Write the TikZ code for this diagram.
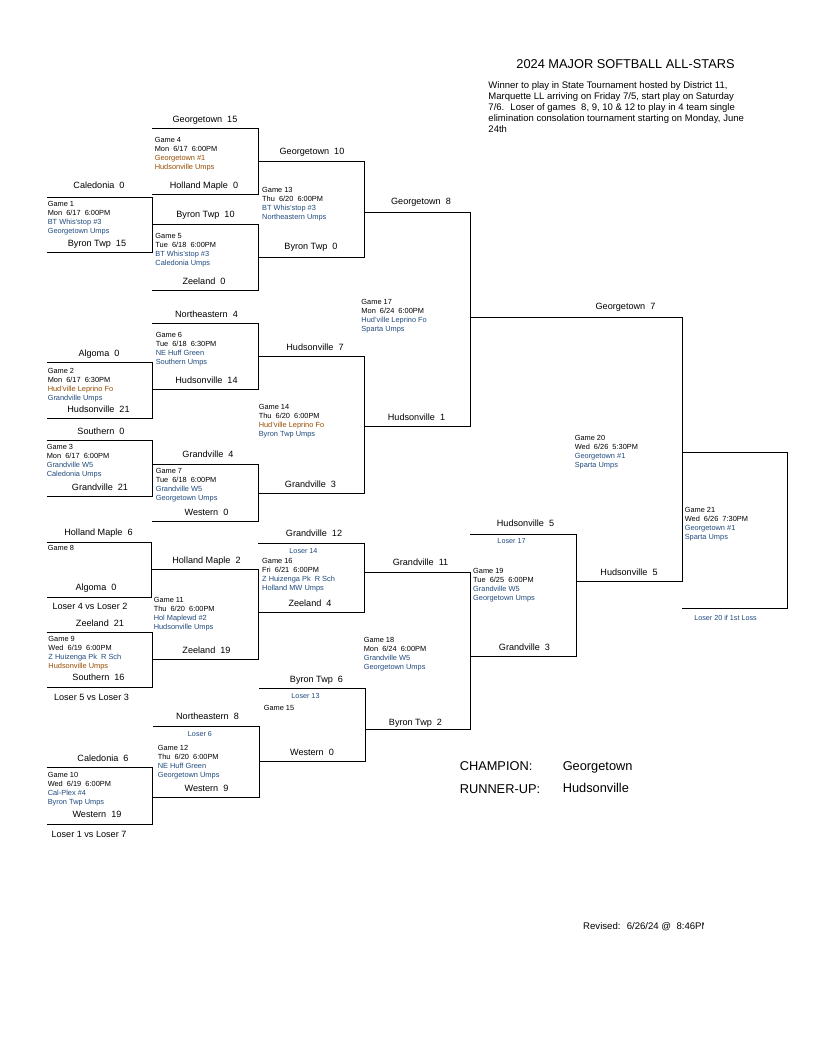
\documentclass[tikz,border=0pt]{standalone}
\usepackage{fontspec}
\setmainfont{Liberation Sans}
\usepackage{tikz}
\definecolor{siteblue}{RGB}{31,73,125}
\definecolor{sitebrown}{RGB}{150,75,0}
\newcommand{\blu}[1]{\textcolor{siteblue}{#1}}
\newcommand{\brn}[1]{\textcolor{sitebrown}{#1}}
% name, x left top, x left bottom, x right, y top, y bottom
\newcommand{\game}[6]{%
	\coordinate (#1tl) at (#2,#5); \coordinate (#1tr) at (#4,#5);
	\coordinate (#1bl) at (#3,#6); \coordinate (#1br) at (#4,#6);
	\draw (#1tl) -- (#1tr) -- (#1br) -- (#1bl);}

\begin{document}
\begin{tikzpicture}[x=1pt,y=-1pt,line width=0.95pt,
	team/.style={font=\fontsize{9.1}{11}\selectfont,anchor=base,inner sep=0},
	info/.style={font=\fontsize{7.4}{9}\selectfont,anchor=north west,align=left,inner sep=0},
	note/.style={font=\fontsize{7.2}{9}\selectfont,anchor=base,inner sep=0,text=siteblue},
	big/.style={font=\fontsize{12.8}{15}\selectfont,anchor=base west,inner sep=0}]
	\useasboundingbox (0,0) rectangle (816,1056);

	% brackets
	\game{g4}{152}{152}{258}{128.3}{194.3}
	\game{g1}{46.5}{46.5}{152}{197.3}{252.3}
	\game{g5}{152}{152}{258}{224.5}{290}
	\game{g13}{258}{258}{364}{161.3}{257.3}
	\game{g6}{152}{152}{258}{323.3}{389.5}
	\game{g2}{46.5}{46.5}{152}{362.3}{418.3}
	\game{g3}{46.5}{46.5}{152}{440}{496}
	\game{g7}{152}{152}{258}{464}{521}
	\game{g14}{258}{258}{364}{356}{493.5}
	\game{g17}{364}{364}{470}{212}{426}
	\game{g20}{470}{576}{682}{317.3}{581}
	\game{g21}{682}{682}{787}{452.3}{608.3}
	\game{g8}{46.5}{46.5}{151}{542.3}{597.3}
	\game{g9}{46.5}{46.5}{152}{632.3}{687.3}
	\game{g11}{151}{152}{258}{569.3}{659.3}
	\game{g16}{258}{258}{364}{543.5}{612}
	\game{g18}{364}{365}{470}{572.5}{729}
	\game{g15}{259}{259}{365}{688.7}{761}
	\game{g12}{153}{152}{259}{726.7}{797.3}
	\game{g10}{46.5}{46.5}{152}{767.3}{824.3}
	\game{g19}{470}{470}{576}{534.3}{656}

	% teams
	\node[team] (g4-1) at (205,122.3) {Georgetown~ 15};
	\node[team] (g4-2) at (204,188.3) {Holland Maple~ 0};
	\node[team] (g1-1) at (99,189) {Caledonia~ 0};
	\node[team] (g1-2) at (97,246.5) {Byron Twp~ 15};
	\node[team] (g5-1) at (205.5,217.5) {Byron Twp~ 10};
	\node[team] (g5-2) at (204,284) {Zeeland~ 0};
	\node[team] (g13-1) at (312,155) {Georgetown~ 10};
	\node[team] (g13-2) at (311,249.5) {Byron Twp~ 0};
	\node[team] (g17-1) at (421,205) {Georgetown~ 8};
	\node[team] (g6-1) at (206.5,317.2) {Northeastern~ 4};
	\node[team] (g6-2) at (206.5,383.2) {Hudsonville~ 14};
	\node[team] (g2-1) at (99,356) {Algoma~ 0};
	\node[team] (g2-2) at (98.5,412) {Hudsonville~ 21};
	\node[team] (g3-1) at (101,434) {Southern~ 0};
	\node[team] (g3-2) at (100,490) {Grandville~ 21};
	\node[team] (g7-1) at (208,457.5) {Grandville~ 4};
	\node[team] (g7-2) at (206.5,515) {Western~ 0};
	\node[team] (g14-1) at (315,350) {Hudsonville~ 7};
	\node[team] (g14-2) at (310.5,487.5) {Grandville~ 3};
	\node[team] (g17-2) at (416.5,420) {Hudsonville~ 1};
	\node[team] (g20-1) at (625.5,309) {Georgetown~ 7};
	\node[team] (g20-2) at (629,575) {Hudsonville~ 5};
	\node[team] (g16-1) at (314,536) {Grandville~ 12};
	\node[team] (g16-2) at (310,606) {Zeeland~ 4};
	\node[team] (g18-1) at (420.5,565) {Grandville~ 11};
	\node[team] (g18-2) at (415.5,725) {Byron Twp~ 2};
	\node[team] (g15-1) at (316.5,682.5) {Byron Twp~ 6};
	\node[team] (g15-2) at (312,755) {Western~ 0};
	\node[team] (g8-1) at (98.5,535) {Holland Maple~ 6};
	\node[team] (g8-2) at (96,590) {Algoma~ 0};
	\node[team] (g11-1) at (206.5,563.2) {Holland Maple~ 2};
	\node[team] (g11-2) at (206.5,653) {Zeeland~ 19};
	\node[team] (g9-1) at (100,626) {Zeeland~ 21};
	\node[team] (g9-2) at (98.5,680.5) {Southern~ 16};
	\node[team] (g12-1) at (207.5,719) {Northeastern~ 8};
	\node[team] (g12-2) at (206.5,791) {Western~ 9};
	\node[team] (g10-1) at (103,761) {Caledonia~ 6};
	\node[team] (g10-2) at (97,817.5) {Western~ 19};
	\node[team] (g19-1) at (525.5,526.5) {Hudsonville~ 5};
	\node[team] (g19-2) at (524.5,650) {Grandville~ 3};
	\node[team] (g8-v) at (90,609) {Loser 4 vs Loser 2};
	\node[team] (g9-v) at (91.5,700) {Loser 5 vs Loser 3};
	\node[team] (g10-v) at (89,837.5) {Loser 1 vs Loser 7};

	% losers dropped in
	\node[note] (g16-l) at (303.5,553.5) {Loser 14};
	\node[note] (g15-l) at (305.5,698.5) {Loser 13};
	\node[note] (g12-l) at (200,736) {Loser 6};
	\node[note] (g19-l) at (511.5,543.5) {Loser 17};
	\node[note] (g21-l) at (725.5,620) {Loser 20 if 1st Loss};

	% game info
	\node[info] (g1-i) at (47.3,201.3) {Game 1\\Mon~ 6/17~ 6:00PM\\\blu{BT Whis'stop \#3}\\\blu{Georgetown Umps}};
	\node[info] (g4-i) at (154.3,137.3) {Game 4\\Mon~ 6/17~ 6:00PM\\\brn{Georgetown \#1}\\\brn{Hudsonville Umps}};
	\node[info] (g5-i) at (155,233.3) {Game 5\\Tue~ 6/18~ 6:00PM\\\blu{BT Whis'stop \#3}\\\blu{Caledonia Umps}};
	\node[info] (g13-i) at (261.7,187.3) {Game 13\\Thu~ 6/20~ 6:00PM\\\blu{BT Whis'stop \#3}\\\blu{Northeastern Umps}};
	\node[info] (g6-i) at (155.3,331.6) {Game 6\\Tue~ 6/18~ 6:30PM\\\blu{NE Huff Green}\\\blu{Southern Umps}};
	\node[info] (g2-i) at (47.3,367.6) {Game 2\\Mon~ 6/17~ 6:30PM\\\brn{Hud'ville Leprino Fo}\\\blu{Grandville Umps}};
	\node[info] (g3-i) at (46.3,444.3) {Game 3\\Mon~ 6/17~ 6:00PM\\\blu{Grandville W5}\\\blu{Caledonia Umps}};
	\node[info] (g7-i) at (155.3,468.3) {Game 7\\Tue~ 6/18~ 6:00PM\\\blu{Grandville W5}\\\blu{Georgetown Umps}};
	\node[info] (g14-i) at (258.3,404) {Game 14\\Thu~ 6/20~ 6:00PM\\\brn{Hud'ville Leprino Fo}\\\blu{Byron Twp Umps}};
	\node[info] (g17-i) at (361,298.6) {Game 17\\Mon~ 6/24~ 6:00PM\\\blu{Hud'ville Leprino Fo}\\\blu{Sparta Umps}};
	\node[info] (g8-i) at (47.3,545) {Game 8};
	\node[info] (g11-i) at (153.3,596.6) {Game 11\\Thu~ 6/20~ 6:00PM\\\blu{Hol Maplewd \#2}\\\blu{Hudsonville Umps}};
	\node[info] (g9-i) at (48,636.3) {Game 9\\Wed~ 6/19~ 6:00PM\\\blu{Z Huizenga Pk~ R Sch}\\\brn{Hudsonville Umps}};
	\node[info] (g16-i) at (261.7,558) {Game 16\\Fri~ 6/21~ 6:00PM\\\blu{Z Huizenga Pk~ R Sch}\\\blu{Holland MW Umps}};
	\node[info] (g18-i) at (363.3,636.6) {Game 18\\Mon~ 6/24~ 6:00PM\\\blu{Grandville W5}\\\blu{Georgetown Umps}};
	\node[info] (g15-i) at (263.3,705.3) {Game 15};
	\node[info] (g12-i) at (157.3,744.6) {Game 12\\Thu~ 6/20~ 6:00PM\\\blu{NE Huff Green}\\\blu{Georgetown Umps}};
	\node[info] (g10-i) at (47.3,772.3) {Game 10\\Wed~ 6/19~ 6:00PM\\\blu{Cal-Plex \#4}\\\blu{Byron Twp Umps}};
	\node[info] (g19-i) at (472.7,568.3) {Game 19\\Tue~ 6/25~ 6:00PM\\\blu{Grandville W5}\\\blu{Georgetown Umps}};
	\node[info] (g20-i) at (574.3,435.3) {Game 20\\Wed~ 6/26~ 5:30PM\\\blu{Georgetown \#1}\\\blu{Sparta Umps}};
	\node[info] (g21-i) at (684.3,507.3) {Game 21\\Wed~ 6/26~ 7:30PM\\\blu{Georgetown \#1}\\\blu{Sparta Umps}};

	% heading
	\node[big,anchor=base] (title) at (625.5,68.5) {2024 MAJOR SOFTBALL ALL-STARS};
	\node[info,font=\fontsize{9.5}{10.8}\selectfont] (remark) at (488,81.6)
		{Winner to play in State Tournament hosted by District 11,\\
		Marquette LL arriving on Friday 7/5, start play on Saturday\\
		7/6.~ Loser of games~ 8, 9, 10 \& 12 to play in 4 team single\\
		elimination consolation tournament starting on Monday, June\\
		24th};

	% result
	\node[big] (champ) at (459.3,770) {CHAMPION:};
	\node[big] (champ-t) at (562.3,770) {Georgetown};
	\node[big] (runner) at (459.3,793.8) {RUNNER-UP:};
	\node[big] (runner-t) at (562.3,792.8) {Hudsonville};
	\begin{scope}
		\clip (560,900) rectangle (703.5,950);
		\node[team,anchor=base west,font=\fontsize{9.6}{11}\selectfont] (rev) at (582.7,929) {Revised:~ 6/26/24 @~ 8:46PM};
	\end{scope}
\end{tikzpicture}
\end{document}
